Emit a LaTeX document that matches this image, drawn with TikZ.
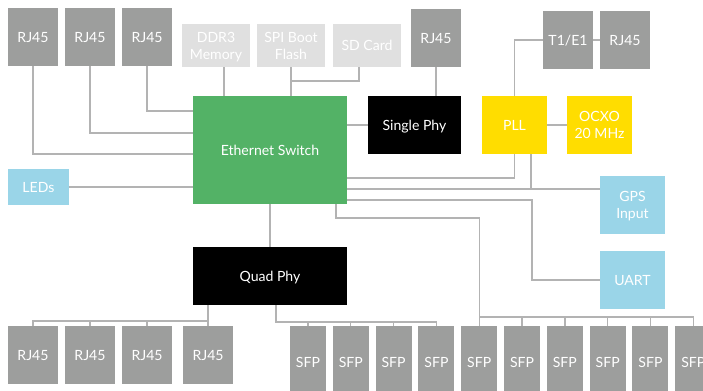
\documentclass[tikz,border=0pt]{standalone}
\usepackage{fontspec}
\setmainfont{Lato}
\usepackage{tikz}
\usetikzlibrary{positioning,calc}

\definecolor{portgray}{HTML}{9D9E9D}
\definecolor{memgray}{HTML}{E0E0E0}
\definecolor{swgreen}{HTML}{53B266}
\definecolor{clkyellow}{HTML}{FFDD00}
\definecolor{ioblue}{HTML}{9AD5E8}
\definecolor{wiregray}{HTML}{B3B3B3}

\begin{document}
\begin{tikzpicture}[
  x=0.025cm, y=-0.025cm,
  font=\fontsize{10}{12}\selectfont,
  box/.style={inner sep=0pt, outer sep=0pt, align=center, text=white, text depth=-0.15cm},
  port/.style={box, fill=portgray, minimum width=1.25cm, minimum height=1.45cm},
  sfpbox/.style={box, fill=portgray, minimum width=0.9cm, minimum height=1.8cm, text depth=0pt},
  mem/.style={box, fill=memgray, minimum width=1.7cm, minimum height=1.075cm, text depth=-0.1cm},
  clk/.style={box, fill=clkyellow, minimum width=1.625cm, minimum height=1.45cm},
  io/.style={box, fill=ioblue, minimum width=1.625cm, minimum height=1.45cm},
  phy/.style={box, fill=black, minimum height=1.45cm},
  wire/.style={draw=wiregray, line width=0.9pt}
]
\clip (0,0) rectangle (703,390);

% top row
\node[port] (rjA) at (33,37) {RJ45};
\node[port, right=0.175cm of rjA] (rjB) {RJ45};
\node[port, right=0.175cm of rjB] (rjC) {RJ45};
\node[mem] (ddr) at (216,45.5) {DDR3\\Memory};
\node[mem, right=0.175cm of ddr] (spi) {SPI Boot\\Flash};
\node[mem, right=0.2cm of spi] (sdc) {SD Card};
\node[port] (rjD) at (436,38) {RJ45};
\node[port] (t1) at (568,40) {T1/E1};
\node[port, right=0.175cm of t1] (rjE) {RJ45};

% middle
\node[box, fill=swgreen, minimum width=3.85cm, minimum height=2.7cm] (sw) at (270,150) {Ethernet Switch};
\node[phy, minimum width=2.325cm] (sphy) at (414.5,125) {Single Phy};
\node[clk] (pll) at (514.5,125) {PLL};
\node[clk, right=0.5cm of pll] (ocxo) {OCXO\\20 MHz};
\node[io, minimum width=1.525cm, minimum height=0.9cm] (leds) at (38.5,187) {LEDs};
\node[io] (gps) at (632.5,205) {GPS\\Input};
\node[io, below=0.425cm of gps] (uart) {UART};
\node[phy, minimum width=3.85cm] (qphy) at (270,276) {Quad Phy};

% bottom row
\node[port] (rjF) at (33,355) {RJ45};
\node[port, right=0.175cm of rjF] (rjG) {RJ45};
\node[port, right=0.175cm of rjG] (rjH) {RJ45};
\node[port, right=0.275cm of rjH] (rjI) {RJ45};
\node[sfpbox] (sfpA) at (308,362) {SFP};
\node[sfpbox, right=0.17cm of sfpA] (sfpB) {SFP};
\node[sfpbox, right=0.17cm of sfpB] (sfpC) {SFP};
\node[sfpbox, right=0.17cm of sfpC] (sfpD) {SFP};
\node[sfpbox, right=0.17cm of sfpD] (sfpE) {SFP};
\node[sfpbox, right=0.17cm of sfpE] (sfpF) {SFP};
\node[sfpbox, right=0.17cm of sfpF] (sfpG) {SFP};
\node[sfpbox, right=0.17cm of sfpG] (sfpH) {SFP};
\node[sfpbox, right=0.17cm of sfpH] (sfpI) {SFP};
\node[sfpbox, right=0.17cm of sfpI] (sfpJ) {SFP};

\coordinate (ddrP) at ($(ddr.south)+(8,0)$);
\coordinate (sdcP) at ($(sdc.south)+(-8,0)$);
\coordinate (pllG) at ($(pll.south)+(16.5,0)$);
\coordinate (gpsP) at ($(gps.west)+(0,-16)$);
\coordinate (swS) at ($(sw.south east)+(-11,0)$);
\coordinate (qR) at ($(qphy.south)+(6,0)$);

% switch links
\draw[wire] (rjA.south) |- ($(sw.west)+(0,4)$);
\draw[wire] (rjB.south) |- ($(sw.west)+(0,-17)$);
\draw[wire] (rjC.south) |- ($(sw.west)+(0,-39)$);
\draw[wire] (ddrP) -- (ddrP |- sw.north);
\draw[wire] (spi.south) -- (spi.south |- sw.north);
\draw[wire] (sdcP) |- ($(spi.south)+(0,14)$);
\draw[wire] (leds.east) -- (leds.east -| sw.west);
\draw[wire] (sw.east |- sphy.west) -- (sphy.west);
\draw[wire] (rjD.south) -- (rjD.south |- sphy.north);

% clocking
\draw[wire] (pll.north) |- (t1.west);
\draw[wire] (t1.east) -- (rjE.west);
\draw[wire] (pll.east) -- (ocxo.west);
\draw[wire] (pll.south) |- ($(sw.east)+(0,28)$);
\draw[wire] (sw.east |- gpsP) -- (gpsP);
\draw[wire] (pllG) -- (pllG |- gpsP);
\draw[wire] ($(sw.east)+(0,50)$) -| ($(uart.west)+(-68,0)$) -- (uart.west);

% sfp from switch
\draw[wire] (swS) -- ++(0,14) -| (sfpE.north);
\draw[wire] ($(sfpE.north)+(0,-9)$) -| (sfpJ.north);
\draw[wire] (sfpF.north) -- ++(0,-9);
\draw[wire] (sfpG.north) -- ++(0,-9);
\draw[wire] (sfpH.north) -- ++(0,-9);
\draw[wire] (sfpI.north) -- ++(0,-9);

% quad phy
\draw[wire] (sw.south) -- (qphy.north);
\draw[wire] (rjI.north |- qphy.south) -- (rjI.north);
\draw[wire] ($(rjI.north)+(0,-5)$) -| (rjF.north);
\draw[wire] (rjG.north) -- ++(0,-5);
\draw[wire] (rjH.north) -- ++(0,-5);
\draw[wire] (qR) |- ($(sfpD.north)+(0,-4)$) -- (sfpD.north);
\draw[wire] (sfpA.north) -- ++(0,-4);
\draw[wire] (sfpB.north) -- ++(0,-4);
\draw[wire] (sfpC.north) -- ++(0,-4);
\end{tikzpicture}
\end{document}
